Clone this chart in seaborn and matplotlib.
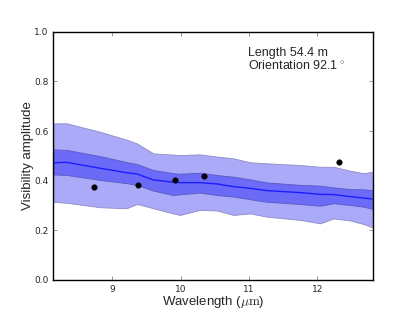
import numpy as np
import pandas as pd
import matplotlib
matplotlib.use('Agg')
import matplotlib.pyplot as plt
import seaborn as sns

# model curve
wavelength = [8.14, 8.33, 8.82, 9.21, 9.36, 9.60, 9.89, 9.99, 10.28, 10.53,
              10.77, 11.02, 11.26, 11.75, 12.04, 12.24, 12.48, 12.68, 12.81]
median = [0.472, 0.474, 0.450, 0.432, 0.427, 0.403, 0.394, 0.392, 0.392, 0.387,
          0.376, 0.369, 0.360, 0.352, 0.345, 0.344, 0.336, 0.330, 0.326]
inner_hi = [0.526, 0.524, 0.499, 0.475, 0.467, 0.443, 0.430, 0.428, 0.432, 0.423,
            0.416, 0.405, 0.393, 0.383, 0.380, 0.373, 0.366, 0.365, 0.362]
inner_lo = [0.425, 0.423, 0.403, 0.390, 0.383, 0.360, 0.342, 0.345, 0.352, 0.342,
            0.336, 0.325, 0.315, 0.306, 0.299, 0.309, 0.302, 0.295, 0.286]
outer_hi = [0.631, 0.631, 0.597, 0.565, 0.550, 0.510, 0.505, 0.503, 0.506, 0.497,
            0.490, 0.474, 0.470, 0.463, 0.456, 0.456, 0.440, 0.430, 0.436]
outer_lo = [0.315, 0.311, 0.293, 0.289, 0.306, 0.289, 0.268, 0.262, 0.282, 0.280,
            0.262, 0.268, 0.255, 0.242, 0.228, 0.248, 0.240, 0.225, 0.212]

# observed points
obs_wl = [8.73, 9.37, 9.91, 10.34, 12.32]
obs_vis = [0.373, 0.384, 0.401, 0.419, 0.475]

model = pd.DataFrame({'wl': wavelength, 'median': median})
obs = pd.DataFrame({'wl': obs_wl, 'vis': obs_vis})

sns.set_style("ticks")
plt.rcParams['font.family'] = ['Liberation Sans', 'DejaVu Sans']
plt.rcParams['mathtext.fontset'] = 'cm'

fig = plt.figure(figsize=(4.15, 3.12), dpi=100)
ax = fig.add_axes([0.1285, 0.1026, 0.7695, 0.7958])

ax.fill_between(wavelength, outer_lo, outer_hi, facecolor='#aaaaf9',
                edgecolor='#8c8cc8', linewidth=0.6)
ax.fill_between(wavelength, inner_lo, inner_hi, facecolor='#6b6bf8',
                edgecolor='#5a5ac0', linewidth=0.6)
sns.lineplot(data=model, x='wl', y='median', ax=ax, color='#1c1cff', linewidth=1.0)
sns.scatterplot(data=obs, x='wl', y='vis', ax=ax, color='black', s=16,
                edgecolor='black', zorder=5)

ax.set_xlim(8.136, 12.81)
ax.set_ylim(0, 1.0)
ax.set_xticks([9, 10, 11, 12])
ax.set_yticks([0.0, 0.2, 0.4, 0.6, 0.8, 1.0])
ax.set_yticklabels(['0.0', '0.2', '0.4', '0.6', '0.8', '1.0'])
ax.tick_params(direction='in', top=True, right=True, length=3, width=0.6,
               color='#888888', labelsize=6.5, labelfontfamily='DejaVu Sans')
for s in ax.spines.values():
    s.set_color('black')
    s.set_linewidth(1.0)

ax.set_xlabel(r'Wavelength ($\mu\mathrm{m}$)', fontsize=9.5, labelpad=0)
ax.set_ylabel('Visibility amplitude', fontsize=9.5, labelpad=0)
ax.text(0.61, 0.94, 'Length 54.4 m\nOrientation 92.1$^\\circ$', transform=ax.transAxes,
        fontsize=9, va='top', ha='left', linespacing=1.0)

fig.savefig('out.png', dpi=100)
